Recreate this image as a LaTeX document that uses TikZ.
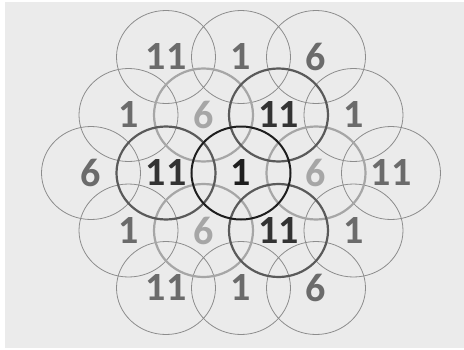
\documentclass[tikz,border=0pt]{standalone}
\usepackage{fontspec}
\setmainfont{Carlito}
\usetikzlibrary{shapes.geometric}
\definecolor{bgc}{HTML}{EBEBEB}
\definecolor{outc}{HTML}{8C8C8C}
\definecolor{outt}{HTML}{6B6B6B}
\definecolor{lightc}{HTML}{A6A6A6}
\definecolor{darkc}{HTML}{5A5A5A}
\definecolor{darkt}{HTML}{333333}
\definecolor{cenc}{HTML}{1E1E1E}
\tikzset{
  cell/.style={ellipse, inner sep=0pt, minimum width=99pt, minimum height=93pt,
    font=\fontsize{40}{40}\selectfont\bfseries},
  outer/.style={cell, draw=outc, line width=0.8pt, text=outt},
  light/.style={cell, draw=lightc, line width=2.2pt, text=lightc},
  dark/.style={cell, draw=darkc, line width=2.2pt, text=darkt},
  center/.style={cell, draw=cenc, line width=2pt, text=cenc},
}
\begin{document}
\begin{tikzpicture}[x=1pt,y=-1pt]
\useasboundingbox (0,0) rectangle (464,349);
\fill[bgc] (5,2) rectangle (464,348);
% outer ring
\node[outer] (r1a) at (166,57) {11};
\node[outer] (r1b) at (241,57) {1};
\node[outer] (r1c) at (316,57) {6};
\node[outer] (r2a) at (128.5,115) {1};
\node[outer] (r2d) at (353.5,115) {1};
\node[outer] (r3a) at (91,173) {6};
\node[outer] (r3e) at (391,173) {11};
\node[outer] (r4a) at (128.5,230.5) {1};
\node[outer] (r4d) at (353.5,230.5) {1};
\node[outer] (r5a) at (166,288) {11};
\node[outer] (r5b) at (241,288) {1};
\node[outer] (r5c) at (316,288) {6};
% inner ring
\node[light] (r2b) at (203.5,115) {6};
\node[light] (r3d) at (316,173) {6};
\node[light] (r4b) at (203.5,230.5) {6};
\node[dark] (r2c) at (278.5,115) {11};
\node[dark] (r3b) at (166,173) {11};
\node[dark] (r4c) at (278.5,230.5) {11};
% centre
\node[center] (r3c) at (241,173) {1};
\end{tikzpicture}
\end{document}
